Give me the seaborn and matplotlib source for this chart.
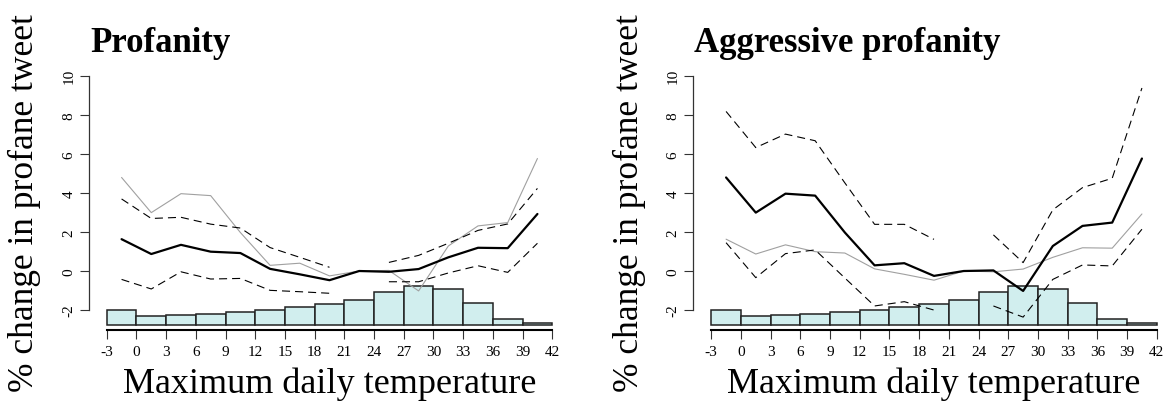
import numpy as np
import pandas as pd
import matplotlib
matplotlib.use("Agg")
import matplotlib.pyplot as plt
import seaborn as sns

# Temperature bins (midpoints and left edges) and axis ticks
temp_mid = [-1.5, 1.5, 4.5, 7.5, 10.5, 13.5, 16.5, 19.5, 22.5, 25.5, 28.5, 31.5, 34.5, 37.5, 40.5]
bin_left = [-3, 0, 3, 6, 9, 12, 15, 18, 21, 24, 27, 30, 33, 36, 39]
x_ticks = [-3, 0, 3, 6, 9, 12, 15, 18, 21, 24, 27, 30, 33, 36, 39, 42]
y_ticks = [-2, 0, 2, 4, 6, 8, 10]

# Profanity: point estimates and 95% bounds (21-24 bin is the reference)
profanity_est = [1.63, 0.87, 1.34, 0.99, 0.92, 0.11, -0.17, -0.47, 0.0, -0.04, 0.10, 0.70, 1.19, 1.17, 2.92]
profanity_hi = [3.69, 2.69, 2.75, 2.40, 2.20, 1.20, 0.70, 0.19, np.nan, 0.44, 0.80, 1.42, 2.08, 2.41, 4.23]
profanity_lo = [-0.43, -0.92, -0.04, -0.41, -0.38, -0.99, -1.06, -1.14, np.nan, -0.55, -0.55, -0.10, 0.27, -0.07, 1.42]

# Aggressive profanity: point estimates and 95% bounds
aggressive_est = [4.79, 2.99, 3.96, 3.86, 1.97, 0.29, 0.40, -0.25, 0.0, 0.03, -1.02, 1.28, 2.31, 2.48, 5.76]
aggressive_hi = [8.17, 6.32, 7.01, 6.67, 4.51, 2.39, 2.39, 1.62, np.nan, 1.85, 0.43, 3.13, 4.27, 4.75, 9.37]
aggressive_lo = [1.45, -0.34, 0.89, 1.08, -0.36, -1.79, -1.57, -2.00, np.nan, -1.79, -2.36, -0.43, 0.31, 0.26, 2.14]

# Distribution of days across temperature bins (bar heights in axis units)
hist_heights = [0.72, 0.45, 0.47, 0.55, 0.64, 0.74, 0.91, 1.05, 1.27, 1.66, 1.99, 1.83, 1.08, 0.26, 0.07]

sns.set_style("ticks")
plt.rcParams["font.family"] = ["Liberation Serif", "DejaVu Serif"]
plt.rcParams["axes.unicode_minus"] = False
plt.rcParams["lines.scale_dashes"] = False
plt.rcParams["text.color"] = "black"
plt.rcParams["axes.labelcolor"] = "black"
plt.rcParams["xtick.color"] = "black"
plt.rcParams["ytick.color"] = "black"

W, H = 1167, 402
fig = plt.figure(figsize=(W / 100, H / 100), dpi=100)

HIST_BASE = -2.74
DASH = (0, (5.8, 3.6))


def runs(x, y):
    """Split a series into contiguous non-missing pieces."""
    df = pd.DataFrame({"x": x, "y": y})
    valid = df["y"].notna()
    grp = (~valid).cumsum()
    out = []
    for _, part in df[valid].groupby(grp[valid]):
        if len(part) > 1:
            out.append(part)
    return out


def draw_panel(left_px, title, est, lo, hi, other):
    ax = fig.add_axes([left_px / W, (H - 330.6) / H, 481.2 / W, 261.7 / H])
    ax.set_xlim(-4.8, 43.8)
    ax.set_ylim(-3.0, 10.4)

    ax.bar(bin_left, hist_heights, width=3, bottom=HIST_BASE, align="edge",
           color="#d1eeee", edgecolor="#222222", linewidth=1.1, zorder=1)

    for part in runs(temp_mid, other):
        sns.lineplot(data=part, x="x", y="y", ax=ax, color="#a0a0a0",
                     linewidth=0.8, estimator=None, sort=False, zorder=2)
    for series in (hi, lo):
        for part in runs(temp_mid, series):
            sns.lineplot(data=part, x="x", y="y", ax=ax, color="black",
                         linewidth=0.8, linestyle=DASH, estimator=None,
                         sort=False, zorder=3)
    for part in runs(temp_mid, est):
        sns.lineplot(data=part, x="x", y="y", ax=ax, color="black",
                     linewidth=1.6, estimator=None, sort=False, zorder=4)

    for s in ("top", "right"):
        ax.spines[s].set_visible(False)
    ax.spines["left"].set_bounds(-2, 10)
    ax.spines["left"].set_color("#333333")
    ax.spines["left"].set_linewidth(0.9)
    ax.spines["bottom"].set_bounds(-3, 42)
    ax.spines["bottom"].set_color("black")
    ax.spines["bottom"].set_linewidth(1.5)

    ax.set_xticks(x_ticks)
    ax.set_xticklabels([str(t) for t in x_ticks])
    ax.set_yticks(y_ticks)
    ax.set_yticklabels([str(t) for t in y_ticks])
    ax.tick_params(axis="both", direction="out", length=6.8, width=0.8,
                   color="#333333", labelsize=11, labelcolor="black")
    ax.tick_params(axis="x", pad=4)
    ax.tick_params(axis="y", pad=3)
    for lab in ax.get_yticklabels():
        lab.set_rotation(90)
        lab.set_va("center")
    ax.set_xlabel("")
    ax.set_ylabel("")
    ax.grid(False)

    x_center = (left_px + 17.8 + 22.5 * 9.9) / W
    fig.text(x_center, 0.0216, "Maximum daily temperature", ha="center",
             va="baseline", fontsize=26, color="black")
    fig.text((left_px - 64) / W, 0.495, "% change in profane tweet",
             rotation=90, ha="center", va="center", fontsize=25.5, color="black")
    fig.text((left_px + 1) / W, (H - 51.7) / H, title, ha="left",
             va="baseline", fontsize=25, fontweight="bold", color="black")
    return ax


draw_panel(88.9, "Profanity", profanity_est, profanity_lo, profanity_hi, aggressive_est)
draw_panel(693.4, "Aggressive profanity", aggressive_est, aggressive_lo, aggressive_hi, profanity_est)

fig.savefig("out.png", dpi=100)
